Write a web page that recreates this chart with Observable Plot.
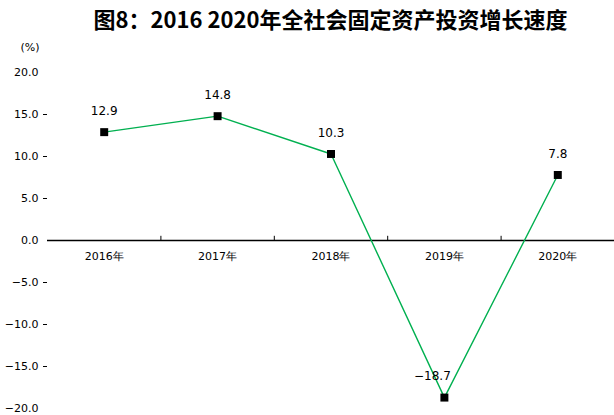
<!DOCTYPE html>
<html><head><meta charset="utf-8">
<script src="https://cdn.jsdelivr.net/npm/d3@7"></script>
<script src="https://cdn.jsdelivr.net/npm/@observablehq/plot@0.6"></script>
<style>
body{margin:0;background:#fff;}
#title{height:36px;line-height:36px;padding-left:47px;text-align:center;font-family:"Noto Sans CJK SC";font-weight:bold;font-size:22px;color:#000;}
</style></head>
<body>
<div id="title">图8：2016 2020年全社会固定资产投资增长速度</div>
<div id="chart"></div>
<script>
const years = ["2016年","2017年","2018年","2019年","2020年"];
const growth = [12.9, 14.8, 10.3, -18.7, 7.8];
const yTicks = [-20,-15,-10,-5,0,5,10,15,20];
const yMarkTicks = [-15,-10,-5,5,10,15];
const boundaries = [1,2,3,4];

const data = years.map((y,i)=>({year:y, idx:i+0.5, v:growth[i]}));
const fmt = d3.format(".1f");
const font = "DejaVu Sans";

const plot = Plot.plot({
  width: 614,
  height: 379,
  marginLeft: 47,
  marginRight: 0,
  marginTop: 36,
  marginBottom: 7,
  style: {fontFamily: font, fontSize: "11px", color: "#000", background: "#fff"},
  x: {domain: [0,5], axis: null},
  y: {domain: [-20,20]},
  marks: [
    Plot.axisY({ticks: yTicks, tickSize: 0, tickPadding: 9, tickFormat: fmt, label: null, fontSize: 11}),
    Plot.axisY({ticks: yMarkTicks, tickSize: 4, tickFormat: () => "", label: null, stroke: "#000"}),
    Plot.ruleY([0], {stroke: "#000", strokeWidth: 1.3}),
    Plot.ruleX(boundaries, {x: d => d, y1: 0, y2: 0.5, stroke: "#000"}),
    Plot.text(data, {x: "idx", y: 0, text: "year", dy: 16, fontSize: 11}),
    Plot.line(data, {x: "idx", y: "v", stroke: "#00b050", strokeWidth: 1.4}),
    Plot.dot(data, {x: "idx", y: "v", symbol: "square", r: 4.5, fill: "#000", stroke: null}),
    Plot.text(data.filter(d => d.v >= 0), {x: "idx", y: "v", text: d => fmt(d.v), dy: -21, fontSize: 12}),
    Plot.text(data.filter(d => d.v < 0), {x: "idx", y: "v", text: d => fmt(d.v), dy: -21, dx: -12, fontSize: 12}),
    Plot.text(["(%)"], {frameAnchor: "top-left", dx: -27, dy: -29, fontSize: 11})
  ]
});
document.getElementById("chart").appendChild(plot);
</script>
</body></html>
